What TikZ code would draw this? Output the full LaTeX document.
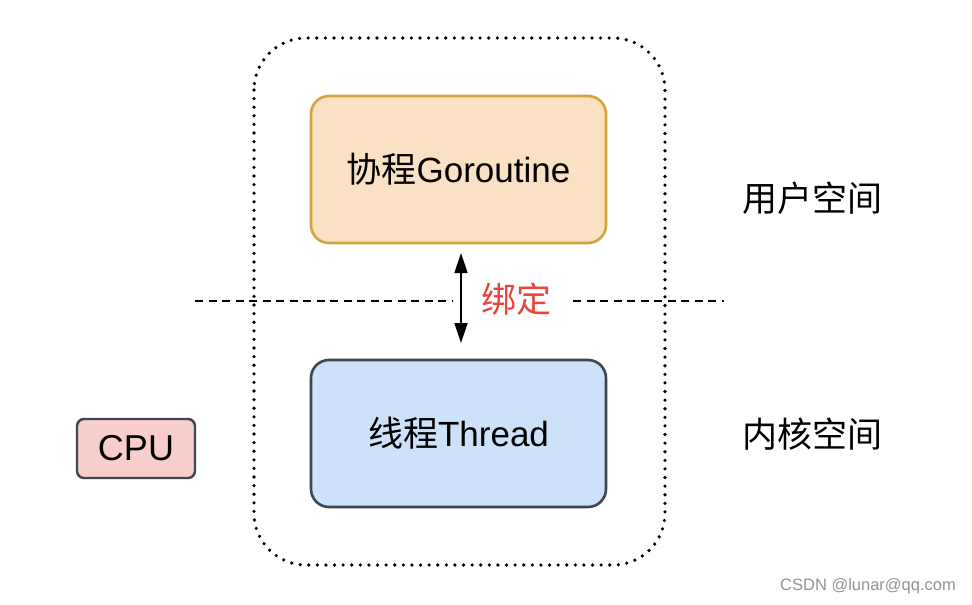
\documentclass[tikz,border=0pt]{standalone}
\usepackage{fontspec}
\setmainfont{Liberation Sans}
\newfontfamily\cjk{Noto Sans CJK SC}
\usetikzlibrary{arrows.meta}
\definecolor{orfill}{HTML}{FAE1C4}
\definecolor{ordraw}{HTML}{D4A43C}
\definecolor{blfill}{HTML}{CDE1FA}
\definecolor{bldraw}{HTML}{3E4650}
\definecolor{pkfill}{HTML}{F8CECC}
\definecolor{redtxt}{HTML}{E5453C}
\tikzset{
  x=1pt, y=-1pt,
  procbox/.style={draw, line width=2.6pt, rounded corners=18pt, minimum width=295pt, minimum height=147pt, font=\fontsize{35}{35}\selectfont},
  sidelabel/.style={font=\fontsize{35}{35}\selectfont\cjk},
}
\begin{document}
\begin{tikzpicture}
\useasboundingbox (0,0) rectangle (972,605);
\fill[white] (0,0) rectangle (972,605);
% outer dotted boundary
\draw[line width=3.6pt, line cap=round, dash pattern=on 0pt off 8.6pt, rounded corners=52pt] (254,38) rectangle (665,565);
% dashed separator
\coordinate (dl1) at (195,301);
\coordinate (dl2) at (453,301);
\coordinate (dr1) at (573,301);
\coordinate (dr2) at (724,301);
\draw[line width=2.5pt, dash pattern=on 8pt off 5.5pt] (dl1) -- (dl2);
\draw[line width=2.5pt, dash pattern=on 8pt off 5.5pt] (dr1) -- (dr2);
% boxes
\node[procbox, fill=orfill, draw=ordraw] (go) at (458.5,169.5) {{\cjk 协程}Goroutine};
\node[procbox, fill=blfill, draw=bldraw] (th) at (458.5,433.5) {{\cjk 线程}Thread};
\node[draw=bldraw, fill=pkfill, line width=2.4pt, rounded corners=7pt, minimum width=118pt, minimum height=59pt, font=\fontsize{36}{36}\selectfont] (cpu) at (136,448.5) {CPU};
% arrow
\coordinate (a1) at (461,253);
\coordinate (a2) at (461,343);
\draw[line width=1.6pt, {Triangle[length=20pt,width=13pt]}-{Triangle[length=20pt,width=13pt]}] (a1) -- (a2);
\node[font=\fontsize{35}{35}\selectfont\cjk, text=redtxt] (bind) at (516,299) {绑定};
% side labels
\node[sidelabel] (user) at (812,198) {用户空间};
\node[sidelabel] (kern) at (812,434) {内核空间};
% watermark
\node[font=\fontsize{16.5}{16.5}\selectfont, text=gray!85] (wm) at (868,586) {CSDN @lunar@qq.com};
\end{tikzpicture}
\end{document}
